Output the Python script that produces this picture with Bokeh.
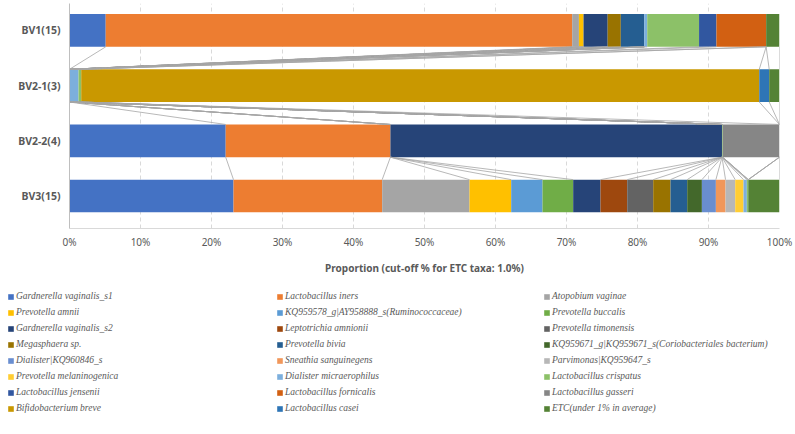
import numpy as np
from bokeh.plotting import figure
from bokeh.layouts import column
from bokeh.models import Legend, LegendItem, ColumnDataSource, FixedTicker, Range1d
from bokeh.embed import file_html
from bokeh.resources import INLINE

groups = ["BV1(15)", "BV2-1(3)", "BV2-2(4)", "BV3(15)"]
group_pos = [3, 2, 1, 0]

taxa = [
    "Gardnerella vaginalis_s1", "Lactobacillus iners", "Atopobium vaginae",
    "Prevotella amnii", "KQ959578_g|AY958888_s(Ruminococcaceae)", "Prevotella buccalis",
    "Gardnerella vaginalis_s2", "Leptotrichia amnionii", "Prevotella timonensis",
    "Megasphaera sp.", "Prevotella bivia", "KQ959671_g|KQ959671_s(Coriobacteriales bacterium)",
    "Dialister|KQ960846_s", "Sneathia sanguinegens", "Parvimonas|KQ959647_s",
    "Prevotella melaninogenica", "Dialister micraerophilus", "Lactobacillus crispatus",
    "Lactobacillus jensenii", "Lactobacillus fornicalis", "Lactobacillus gasseri",
    "Bifidobacterium breve", "Lactobacillus casei", "ETC(under 1% in average)",
]

colors = [
    "#4472C4", "#ED7D31", "#A5A5A5", "#FFC000", "#5B9BD5", "#70AD47",
    "#264478", "#9E480E", "#636363", "#997300", "#255E91", "#43682B",
    "#698ED0", "#F1975A", "#B7B7B7", "#FFCD33", "#7CAFDD", "#8CC168",
    "#3157A0", "#D26012", "#868686", "#C99800", "#2E75B6", "#548235",
]

# proportions (%) per taxon, in taxa order
bv1 = [5.1, 65.7, 0.95, 0.65, 0, 0, 3.4, 0, 0, 1.85, 3.3, 0,
       0, 0, 0, 0, 0.42, 7.3, 2.45, 7.0, 0, 0, 0, 1.88]
bv2_1 = [0, 0, 0, 0, 0, 0, 0, 0, 0, 0, 0, 0,
         0, 0, 0, 0, 1.27, 0.38, 0, 0, 0, 95.5, 1.4, 1.45]
bv2_2 = [22.0, 23.2, 0, 0, 0, 0, 46.7, 0, 0, 0, 0, 0,
         0, 0, 0, 0, 0, 0.1, 0, 0, 8.0, 0, 0, 0]
bv3 = [23.1, 20.94, 12.3, 5.87, 4.41, 4.32, 3.85, 3.76, 3.66, 2.44, 2.35, 2.07,
       1.97, 1.36, 1.36, 1.17, 0.47, 0.2, 0, 0, 0, 0, 0, 4.4]

x_ticks = [0, 10, 20, 30, 40, 50, 60, 70, 80, 90, 100]
x_tick_labels = ["0%", "10%", "20%", "30%", "40%", "50%", "60%", "70%", "80%", "90%", "100%"]
x_title = "Proportion (cut-off % for ETC taxa: 1.0%)"

values = np.array([bv1, bv2_1, bv2_2, bv3], dtype=float)
cum = np.concatenate([np.zeros((4, 1)), np.cumsum(values, axis=1)], axis=1)

bar_h = 0.593

p = figure(width=795, height=286, x_range=Range1d(0, 100), y_range=Range1d(-0.589, 3.489),
           output_backend="svg", toolbar_location=None,
           min_border_left=69, min_border_right=16, min_border_top=3, min_border_bottom=58)
p.outline_line_color = None
p.frame_align = False

# gridlines
p.xgrid.ticker = FixedTicker(ticks=x_ticks)
p.xgrid.grid_line_color = "#D9D9D9"
p.xgrid.grid_line_dash = "4 3"
p.ygrid.grid_line_color = None

sources = []
for k in range(len(taxa)):
    src = ColumnDataSource(dict(y=group_pos, left=cum[:, k], right=cum[:, k + 1]))
    sources.append(src)
    p.hbar(y="y", left="left", right="right", height=bar_h, source=src,
           fill_color=colors[k], line_color=None)

# series lines between adjacent bars
x0, y0, x1, y1 = [], [], [], []
for k in range(len(taxa)):
    for i in range(3):
        x0.append(cum[i, k + 1]); y0.append(group_pos[i] - bar_h / 2)
        x1.append(cum[i + 1, k + 1]); y1.append(group_pos[i + 1] + bar_h / 2)
p.segment(x0=x0, y0=y0, x1=x1, y1=y1, line_color="#A6A6A6", line_width=0.8)

# axes
p.xaxis.ticker = FixedTicker(ticks=x_ticks)
p.xaxis.major_label_overrides = {t: l for t, l in zip(x_ticks, x_tick_labels)}
p.xaxis.axis_label = x_title
p.xaxis.axis_label_text_font = "Noto Sans"
p.xaxis.axis_label_text_font_style = "bold"
p.xaxis.axis_label_text_font_size = "10px"
p.xaxis.axis_label_text_color = "#595959"
p.xaxis.axis_label_standoff = 9
p.xaxis.major_label_text_font = "Noto Sans"
p.xaxis.major_label_text_font_size = "10px"
p.xaxis.major_label_text_color = "#595959"
p.xaxis.major_label_standoff = 6
p.xaxis.axis_line_color = "#D9D9D9"
p.xaxis.major_tick_line_color = None
p.xaxis.major_tick_out = 0
p.xaxis.major_tick_in = 0
p.xaxis.minor_tick_line_color = None

p.yaxis.ticker = FixedTicker(ticks=group_pos)
p.yaxis.major_label_overrides = {pos: g for pos, g in zip(group_pos, groups)}
p.yaxis.major_label_text_font = "Noto Sans"
p.yaxis.major_label_text_font_style = "bold"
p.yaxis.major_label_text_font_size = "10.5px"
p.yaxis.major_label_text_color = "#595959"
p.yaxis.major_label_standoff = 9
p.yaxis.axis_line_color = "#BFBFBF"
p.yaxis.major_tick_line_color = None
p.yaxis.major_tick_out = 0
p.yaxis.major_tick_in = 0
p.yaxis.minor_tick_line_color = None

# legend panel (separate figure below the chart), 3 columns in row-major order
q = figure(width=795, height=148, x_range=Range1d(0, 100), y_range=Range1d(100, 101),
           output_backend="svg", toolbar_location=None, x_axis_type=None, y_axis_type=None,
           min_border_left=0, min_border_right=0, min_border_top=0, min_border_bottom=0)
q.outline_line_color = None
q.grid.grid_line_color = None
q.frame_align = False

legend_renderers = []
for k in range(len(taxa)):
    # same data, out of this panel's visible range: only serves as the legend swatch
    legend_renderers.append(q.hbar(y="y", left="left", right="right", height=bar_h,
                                   source=sources[k], fill_color=colors[k], line_color=None))

col_x = [7, 276, 543]
for c in range(3):
    idx = list(range(c, len(taxa), 3))
    items = [LegendItem(label=taxa[k], renderers=[legend_renderers[k]]) for k in idx]
    leg = Legend(items=items, location=(col_x[c], 18), orientation="vertical",
                 label_text_font="Liberation Serif", label_text_font_style="italic",
                 label_text_font_size="9.5px", label_text_color="#595959",
                 glyph_width=7, glyph_height=7, label_height=16, label_standoff=2,
                 spacing=0, padding=0, margin=0, border_line_color=None,
                 background_fill_alpha=0)
    q.add_layout(leg)

layout = column(p, q, spacing=0)
open("out.html", "w").write(file_html(layout, INLINE))
